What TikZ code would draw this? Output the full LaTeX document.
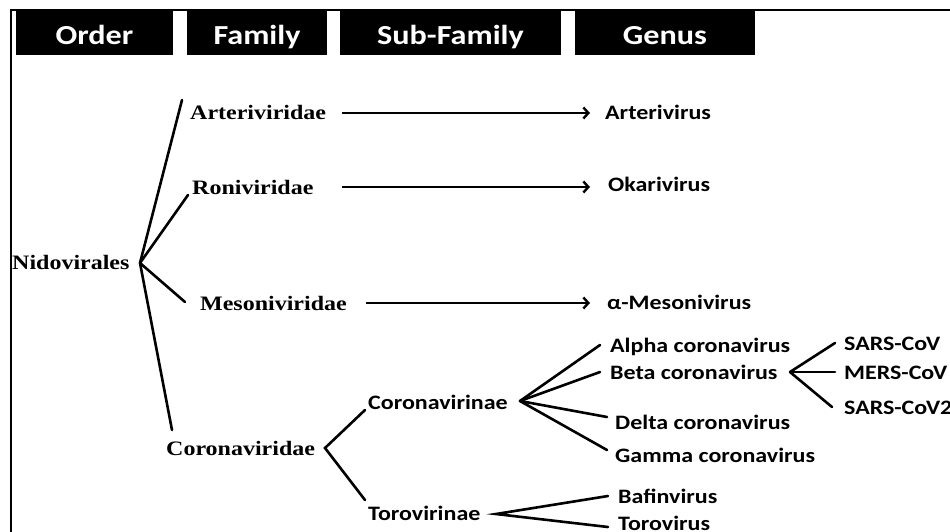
\documentclass[tikz,border=0pt]{standalone}
\usepackage{fontspec}
\setmainfont{Liberation Serif}
\newfontfamily\serifb{Liberation Serif}[FakeStretch=1.17]
\newfontfamily\sansb{Carlito}[FakeStretch=1.17]
\usetikzlibrary{arrows.meta}
\begin{document}
\begin{tikzpicture}[x=1pt,y=-1pt,
  hdr/.style={fill=black,text=white,inner sep=0pt,minimum height=44pt,
    text height=22pt,text depth=0pt,font=\sansb\bfseries\fontsize{27.5}{27.5}\selectfont},
  fam/.style={font=\serifb\bfseries\fontsize{20.5}{20.5}\selectfont,anchor=base west,inner sep=0pt},
  gen/.style={font=\sansb\bfseries\fontsize{20.5}{20.5}\selectfont,anchor=base west,inner sep=0pt},
  br/.style={line width=2.6pt,line cap=round},
  arr/.style={line width=2.4pt,-{Straight Barb[length=5pt,width=11pt,line width=2.4pt]}},
  frame/.style={line width=2.5pt}
]
\clip (0,0) rectangle (950,531);
\fill[white] (0,0) rectangle (950,531);
% frame
\coordinate (fbl) at (11,540);
\coordinate (ftl) at (11,10);
\coordinate (ftr) at (960,10);
\draw[frame] (fbl) -- (ftl) -- (ftr);
% headers
\node[hdr,minimum width=157pt] (hOrder) at (94.5,33) {Order};
\node[hdr,minimum width=140pt] (hFamily) at (257,33) {Family};
\node[hdr,minimum width=221pt] (hSub) at (450.5,33) {Sub-Family};
\node[hdr,minimum width=180pt] (hGenus) at (665,33) {Genus};
% order / families
\node[fam] (nido) at (12,269) {Nidovirales};
\node[fam] (arteri) at (190,119) {Arteriviridae};
\node[fam] (roni) at (192,194) {Roniviridae};
\node[fam] (meso) at (200,310) {Mesoniviridae};
\node[fam] (corona) at (166,455) {Coronaviridae};
% genera
\node[gen] (arterivirus) at (605,119) {Arterivirus};
\node[gen] (okari) at (608,191) {Okarivirus};
\node[gen] (amesoni) at (607,309) {α-Mesonivirus};
% subfamilies
\node[gen] (coronavirinae) at (368,409) {Coronavirinae};
\node[gen] (torovirinae) at (368,520) {Torovirinae};
% corona genera
\node[gen] (alpha) at (610,352) {Alpha coronavirus};
\node[gen] (beta) at (610,379) {Beta coronavirus};
\node[gen] (delta) at (615,429) {Delta coronavirus};
\node[gen] (gamma) at (615,462) {Gamma coronavirus};
\node[gen] (bafin) at (618,503) {Bafinvirus};
\node[gen] (torov) at (618,530) {Torovirus};
% species
\node[gen] (sars) at (844,350) {SARS-CoV};
\node[gen] (mers) at (844,379) {MERS-CoV};
\node[gen] (sars2) at (844,414) {SARS-CoV2};
% branch points
\coordinate (vNido) at (140,263);
\coordinate (eArteri) at (182,100);
\coordinate (eRoni) at (188,195);
\coordinate (eMeso) at (185,302);
\coordinate (eCorona) at (172,430);
\draw[br] (vNido) -- (eArteri);
\draw[br] (vNido) -- (eRoni);
\draw[br] (vNido) -- (eMeso);
\draw[br] (vNido) -- (eCorona);
% arrows
\coordinate (aS1) at (342,113);
\coordinate (aE1) at (590,113);
\coordinate (aS2) at (342,187);
\coordinate (aE2) at (590,187);
\coordinate (aS3) at (366,303);
\coordinate (aE3) at (590,303);
\draw[arr] (aS1) -- (aE1);
\draw[arr] (aS2) -- (aE2);
\draw[arr] (aS3) -- (aE3);
% coronaviridae split
\coordinate (vCorona) at (325,448);
\coordinate (eCv) at (365,410);
\coordinate (eTv) at (365,500);
\draw[br] (eCv) -- (vCorona) -- (eTv);
% coronavirinae split
\coordinate (vCvn) at (520,401);
\coordinate (eAlpha) at (600,345);
\coordinate (eBeta) at (600,372);
\coordinate (eDelta) at (607,417);
\coordinate (eGamma) at (607,450);
\draw[br] (vCvn) -- (eAlpha);
\draw[br] (vCvn) -- (eBeta);
\draw[br] (vCvn) -- (eDelta);
\draw[br] (vCvn) -- (eGamma);
% torovirinae split
\coordinate (vTvn) at (496,514);
\coordinate (eBafin) at (608,496);
\coordinate (eTorov) at (608,527);
\draw[br] (eBafin) -- (vTvn) -- (eTorov);
% beta split
\coordinate (vBeta) at (790,372);
\coordinate (eSars) at (835,343);
\coordinate (eMers) at (835,372);
\coordinate (eSars2) at (832,407);
\draw[br] (vBeta) -- (eSars);
\draw[br] (vBeta) -- (eMers);
\draw[br] (vBeta) -- (eSars2);
\end{tikzpicture}
\end{document}
